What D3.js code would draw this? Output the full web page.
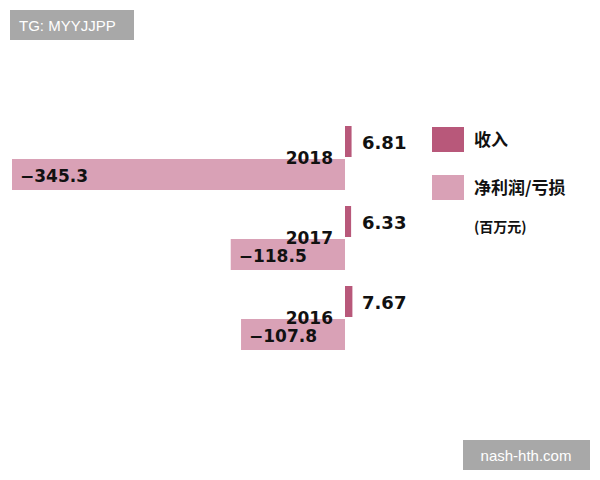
<!DOCTYPE html><html><head><meta charset="utf-8"><script src="https://cdn.jsdelivr.net/npm/d3@7"></script>
<style>body{margin:0;background:#fff}</style></head><body><svg id="c" width="600" height="480"></svg>
<script>
const years=["2018","2017","2016"];
const revenue=[6.81,6.33,7.67];
const netProfit=[-345.3,-118.5,-107.8];
const legendLabels=["收入","净利润/亏损"];
const unitLabel="(百万元)";
const cRev="#b8587a", cNet="#d9a1b6";
const svg=d3.select("#c");
const x=d3.scaleLinear().domain([-345.3,0]).range([12,345]);
const y=d3.scaleBand().domain(years).range([126,366]).paddingInner(0).paddingOuter(0);
const font="'DejaVu Sans',sans-serif";
years.forEach((yr,i)=>{
  const y0=y(yr), h=31;
  svg.append("rect").attr("x",x(0)).attr("y",y0).attr("width",x(revenue[i])-x(0)).attr("height",h).attr("fill",cRev);
  svg.append("rect").attr("x",x(netProfit[i])).attr("y",y0+h+2).attr("width",x(0)-x(netProfit[i])).attr("height",h).attr("fill",cNet);
  svg.append("text").attr("x",362).attr("y",y0+h/2+7).text(revenue[i].toFixed(2)).attr("font-family",font).attr("font-size",18).attr("font-weight","bold").attr("fill","#111");
  svg.append("text").attr("x",333).attr("y",y0+h+7).attr("text-anchor","end").text(yr).attr("font-family",font).attr("font-size",17).attr("font-weight","bold").attr("fill","#111");
  svg.append("text").attr("x",x(netProfit[i])+8).attr("y",y0+h*1.5+9).text("\u2212"+Math.abs(netProfit[i]).toFixed(1)).attr("font-family",font).attr("font-size",17).attr("font-weight","bold").attr("fill","#111");
});
[[cRev,127],[cNet,175]].forEach((d,i)=>{
  svg.append("rect").attr("x",432).attr("y",d[1]).attr("width",32).attr("height",25).attr("fill",d[0]);
  svg.append("text").attr("x",474).attr("y",d[1]+19).text(legendLabels[i]).attr("font-family","'Noto Sans CJK SC',sans-serif").attr("font-size",17).attr("font-weight","bold").attr("fill","#111");
});
svg.append("text").attr("x",474).attr("y",232).text(unitLabel).attr("font-family","'Noto Sans CJK SC',sans-serif").attr("font-size",14).attr("font-weight","bold").attr("fill","#111");
svg.append("rect").attr("x",10).attr("y",10).attr("width",124).attr("height",30).attr("fill","#a8a8a8");
svg.append("text").attr("x",19).attr("y",31).text("TG: MYYJJPP").attr("font-family","'Liberation Sans',sans-serif").attr("font-size",15).attr("fill","#fff");
svg.append("rect").attr("x",463).attr("y",440).attr("width",127).attr("height",30).attr("fill","#a8a8a8");
svg.append("text").attr("x",526).attr("y",461).attr("text-anchor","middle").text("nash-hth.com").attr("font-family","'Liberation Sans',sans-serif").attr("font-size",15).attr("fill","#fff");
</script></body></html>
